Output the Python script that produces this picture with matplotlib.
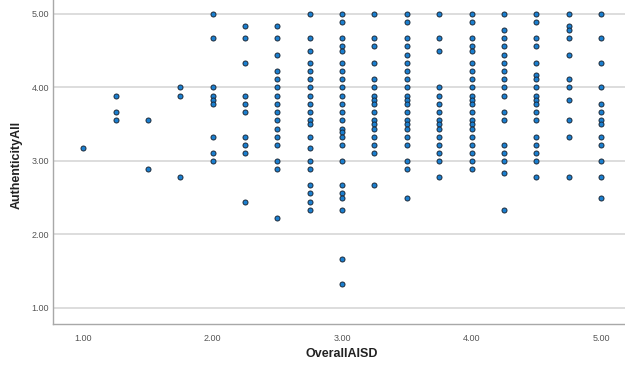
import matplotlib
matplotlib.use("Agg")
import matplotlib.pyplot as plt

# Authenticity scores observed at each OverallAISD level
aisd_levels = [1.00, 1.25, 1.50, 1.75, 2.00, 2.25, 2.50, 2.75, 3.00,
               3.25, 3.50, 3.75, 4.00, 4.25, 4.50, 4.75, 5.00]

auth_100 = [3.17]
auth_125 = [3.89, 3.67, 3.56]
auth_150 = [3.56, 2.89]
auth_175 = [4.00, 3.89, 2.78]
auth_200 = [5.00, 4.67, 4.00, 3.89, 3.83, 3.78, 3.33, 3.11, 3.00]
auth_225 = [4.83, 4.67, 4.33, 3.89, 3.78, 3.67, 3.33, 3.22, 3.11, 2.44]
auth_250 = [4.83, 4.67, 4.44, 4.22, 4.11, 4.00, 3.89, 3.78, 3.67, 3.56,
            3.44, 3.33, 3.22, 3.00, 2.89, 2.22]
auth_275 = [5.00, 4.67, 4.50, 4.33, 4.22, 4.11, 4.00, 3.89, 3.78, 3.67,
            3.56, 3.50, 3.33, 3.17, 3.00, 2.89, 2.67, 2.56, 2.44, 2.33]
auth_300 = [5.00, 4.89, 4.67, 4.56, 4.50, 4.33, 4.22, 4.11, 4.00, 3.89,
            3.78, 3.67, 3.56, 3.44, 3.39, 3.33, 3.22, 3.00, 2.67, 2.56,
            2.50, 2.33, 1.67, 1.33]
auth_325 = [5.00, 4.67, 4.56, 4.33, 4.11, 4.00, 3.89, 3.83, 3.78, 3.67,
            3.56, 3.50, 3.44, 3.33, 3.22, 3.11, 2.67]
auth_350 = [5.00, 4.89, 4.67, 4.56, 4.44, 4.33, 4.22, 4.11, 4.00, 3.89,
            3.83, 3.78, 3.67, 3.56, 3.50, 3.44, 3.33, 3.22, 3.00, 2.89, 2.50]
auth_375 = [5.00, 4.67, 4.50, 4.00, 3.89, 3.78, 3.67, 3.56, 3.50, 3.44,
            3.33, 3.22, 3.11, 3.00, 2.78]
auth_400 = [5.00, 4.89, 4.67, 4.56, 4.50, 4.33, 4.22, 4.11, 4.00, 3.89,
            3.83, 3.78, 3.67, 3.56, 3.50, 3.44, 3.33, 3.22, 3.11, 3.00, 2.89]
auth_425 = [5.00, 4.78, 4.67, 4.56, 4.44, 4.33, 4.22, 4.11, 4.00, 3.89,
            3.67, 3.56, 3.22, 3.11, 3.00, 2.83, 2.33]
auth_450 = [5.00, 4.89, 4.67, 4.56, 4.33, 4.17, 4.11, 4.00, 3.89, 3.83,
            3.78, 3.67, 3.56, 3.33, 3.22, 3.11, 3.00, 2.78]
auth_475 = [5.00, 4.83, 4.78, 4.67, 4.44, 4.11, 4.00, 3.83, 3.56, 3.33, 2.78]
auth_500 = [5.00, 4.67, 4.33, 4.00, 3.78, 3.67, 3.56, 3.50, 3.33, 3.22,
            3.00, 2.78, 2.50]

auth_by_level = [auth_100, auth_125, auth_150, auth_175, auth_200, auth_225,
                 auth_250, auth_275, auth_300, auth_325, auth_350, auth_375,
                 auth_400, auth_425, auth_450, auth_475, auth_500]

tick_values = [1.0, 2.0, 3.0, 4.0, 5.0]
tick_labels = ["1.00", "2.00", "3.00", "4.00", "5.00"]

xs, ys = [], []
for lvl, vals in zip(aisd_levels, auth_by_level):
    xs.extend([lvl] * len(vals))
    ys.extend(vals)

tick_font = ["Liberation Sans", "DejaVu Sans"]
label_font = ["Liberation Sans", "DejaVu Sans"]

fig = plt.figure(figsize=(6.25, 3.65), dpi=100)
ax = fig.add_axes([0.085, 0.1123, 0.915, 0.8877])

ax.scatter(xs, ys, s=13, facecolor="#1a7fd0", edgecolor="#1c2a3a",
           linewidth=0.7, zorder=3)

ax.set_xlim(0.768, 5.185)
ax.set_ylim(0.78, 5.19)
ax.set_xticks(tick_values)
ax.set_xticklabels(tick_labels, family=tick_font)
ax.set_yticks(tick_values)
ax.set_yticklabels(tick_labels, family=tick_font)

ax.grid(axis="y", color="#dadada", linewidth=1.3, zorder=0)
ax.set_axisbelow(True)

for side in ("top", "right"):
    ax.spines[side].set_visible(False)
for side in ("left", "bottom"):
    ax.spines[side].set_color("#a8a8a8")
    ax.spines[side].set_linewidth(1.0)

ax.tick_params(axis="both", labelsize=6.5, colors="#555555", length=0)
ax.tick_params(axis="x", pad=7)
ax.tick_params(axis="y", pad=3)

ax.set_xlabel("OverallAISD", fontsize=9, fontweight="bold", color="#222222",
              family=label_font)
ax.xaxis.set_label_coords(0.505, -0.074)
ax.set_ylabel("AuthenticityAll", fontsize=9, fontweight="bold",
              color="#222222", family=label_font)
ax.yaxis.set_label_coords(-0.054, 0.49)

fig.savefig("out.png", dpi=100)
